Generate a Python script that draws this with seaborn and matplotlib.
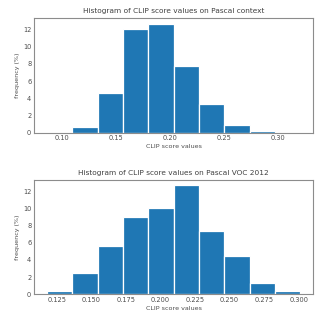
import numpy as np
import pandas as pd
import seaborn as sns
import matplotlib
matplotlib.use("Agg")
import matplotlib.pyplot as plt

# bin edges (CLIP score) and frequency (%) per bin
context_edges = [0.0858, 0.1093, 0.1328, 0.1563, 0.1798, 0.2033,
                 0.2267, 0.2502, 0.2737, 0.2972, 0.3207]
context_freq = [0.0, 0.66, 4.6, 12.1, 12.67, 7.75, 3.37, 0.85, 0.15, 0.0]

voc_edges = [0.1178, 0.1361, 0.1545, 0.1728, 0.1912, 0.2095,
             0.2278, 0.2462, 0.2645, 0.2829, 0.3012]
voc_freq = [0.43, 2.45, 5.6, 9.0, 10.0, 12.66, 7.42, 4.43, 1.32, 0.35]

titles = ["Histogram of CLIP score values on Pascal context",
          "Histogram of CLIP score values on Pascal VOC 2012"]

sns.set_style("white", {"axes.edgecolor": ".55"})
plt.rcParams["font.size"] = 5
plt.rcParams["axes.linewidth"] = 0.8

fig, axes = plt.subplots(2, 1, figsize=(3.25, 3.27), dpi=100)
fig.subplots_adjust(left=0.105, right=0.963, top=0.944, bottom=0.10, hspace=0.415)

for ax, edges, freq, title in zip(axes, [context_edges, voc_edges],
                                  [context_freq, voc_freq], titles):
    e = np.array(edges)
    df = pd.DataFrame({"score": (e[:-1] + e[1:]) / 2, "freq": freq})
    sns.histplot(data=df, x="score", weights="freq", bins=edges, ax=ax,
                 color="#1f77b4", alpha=1, edgecolor="white", linewidth=0.9)
    ax.set_title(title, fontsize=5.3, color=".25", pad=3.5)
    ax.set_xlabel("CLIP score values", fontsize=4.6, color=".3", labelpad=2)
    ax.set_ylabel("frequency (%)", fontsize=4.6, color=".3", labelpad=2.5)
    ax.tick_params(labelsize=4.8, colors=".3", length=0, pad=2)
    ax.margins(x=0.05)

axes[0].set_xticks([0.10, 0.15, 0.20, 0.25, 0.30])
axes[1].set_xticks([0.125, 0.150, 0.175, 0.200, 0.225, 0.250, 0.275, 0.300])
for ax in axes:
    ax.set_yticks([0, 2, 4, 6, 8, 10, 12])

fig.savefig("out.png", dpi=100)
